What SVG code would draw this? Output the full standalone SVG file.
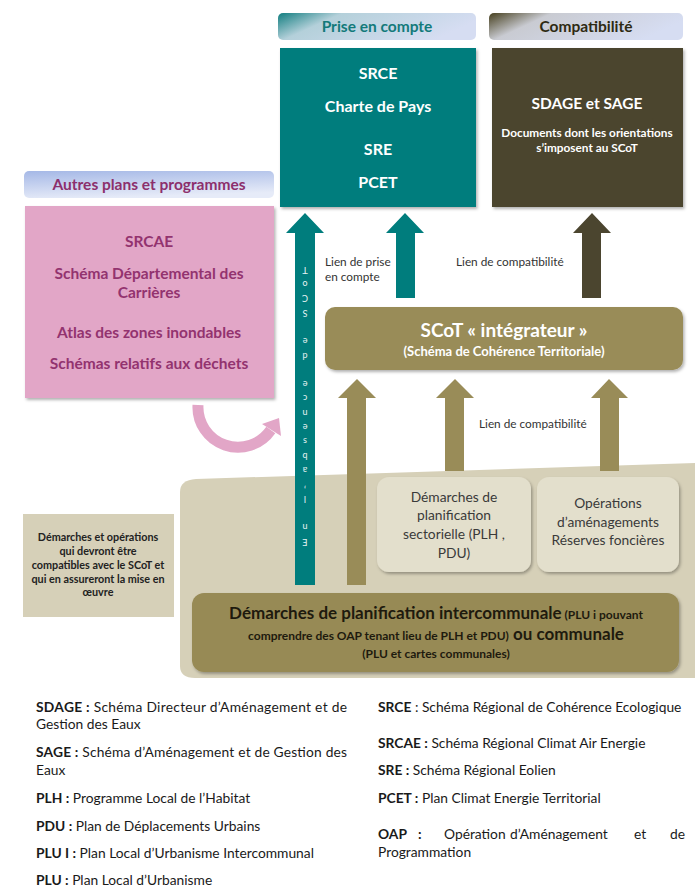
<svg xmlns="http://www.w3.org/2000/svg" width="695" height="889" viewBox="0 0 695 889">
<defs>
<linearGradient id="gTeal" x1="0" y1="0" x2="1" y2="0.3">
<stop offset="0" stop-color="#127e80"/><stop offset="0.3" stop-color="#b4d0da"/><stop offset="1" stop-color="#d6ddf2"/>
</linearGradient>
<linearGradient id="gOlive" x1="0" y1="0" x2="1" y2="0.3">
<stop offset="0" stop-color="#47401f"/><stop offset="0.3" stop-color="#c9cbd2"/><stop offset="1" stop-color="#d6ddf2"/>
</linearGradient>
<linearGradient id="gBlue" x1="0" y1="0" x2="0.3" y2="1">
<stop offset="0" stop-color="#a5b8e6"/><stop offset="1" stop-color="#e6ebf8"/>
</linearGradient>
<filter id="sh" x="-10%" y="-10%" width="125%" height="130%">
<feDropShadow dx="1.5" dy="2" stdDeviation="1.5" flood-color="#000" flood-opacity="0.3"/>
</filter>
<style>
text{font-family:Lato,"Liberation Sans",sans-serif}
.b{font-weight:bold}
.w{fill:#fff}
.hd{font-size:15.5px;font-weight:bold;text-anchor:middle}
.pk{fill:#93336f;font-size:15.5px;font-weight:bold;text-anchor:middle}
.tl{fill:#fff;font-size:16px;font-weight:bold;text-anchor:middle}
.lab{fill:#333;font-size:11.8px}
.sec{fill:#3a3a3a;font-size:13.8px;text-anchor:middle}
.lg{fill:#1a1a1a;font-size:13.8px}
.sm{fill:#222;font-size:10.8px;font-weight:bold;text-anchor:middle}
.vt{fill:#e8f4f4;font-size:9px;text-anchor:middle;dominant-baseline:central}
.ap{fill:#e2a6c7}
</style>
</defs>
<rect width="695" height="889" fill="#fff"/>

<!-- background beige area -->
<path id="zone" d="M180 492 Q180 480 196 479 L695 463 L695 678 L195 678 Q180 678 180 666 Z" fill="#d6d0b8"/>

<g id="hdr-prise">
<rect x="278" y="13" width="198" height="27" rx="5" fill="url(#gTeal)"/>
<text class="hd" x="377" y="32" fill="#137a7a">Prise en compte</text>
</g>
<g id="hdr-compat">
<rect x="489" y="13" width="194" height="27" rx="5" fill="url(#gOlive)"/>
<text class="hd" x="586" y="32" fill="#2e2a12">Compatibilité</text>
</g>
<g id="box-prise">
<rect x="280" y="48" width="196" height="159" fill="#007d7d" filter="url(#sh)"/>
<text class="tl" x="378" y="79">SRCE</text>
<text class="tl" x="378" y="112">Charte de Pays</text>
<text class="tl" x="378" y="155">SRE</text>
<text class="tl" x="378" y="188">PCET</text>
</g>
<g id="box-compat">
<rect x="492" y="48" width="191" height="159" fill="#4b452f" filter="url(#sh)"/>
<text class="w b" x="587" y="109" font-size="15.5" text-anchor="middle">SDAGE et SAGE</text>
<text class="w b" x="587" y="137" font-size="11.8" text-anchor="middle">Documents dont les orientations</text>
<text class="w b" x="587" y="152" font-size="11.8" text-anchor="middle">s’imposent au SCoT</text>
</g>
<g id="hdr-autres">
<rect x="24" y="171" width="250" height="27" rx="5" fill="url(#gBlue)"/>
<text class="hd" x="149" y="190" fill="#8c2f6c">Autres plans et programmes</text>
</g>
<g id="box-autres">
<rect x="25" y="206" width="249" height="192" fill="#e2a6c7" filter="url(#sh)"/>
<text class="pk" x="149" y="247">SRCAE</text>
<text class="pk" x="149" y="279">Schéma Départemental des</text>
<text class="pk" x="149" y="298">Carrières</text>
<text class="pk" x="149" y="338">Atlas des zones inondables</text>
<text class="pk" x="149" y="369">Schémas relatifs aux déchets</text>
</g>
<g id="scot">
<rect x="325" y="307" width="358" height="63" rx="10" fill="#998c58" filter="url(#sh)"/>
<text class="w b" x="504" y="337" font-size="19" text-anchor="middle">SCoT « intégrateur »</text>
<text class="w b" x="504" y="356" font-size="13" text-anchor="middle">(Schéma de Cohérence Territoriale)</text>
</g>
<g id="box-sect">
<rect x="377" y="477" width="154" height="95" rx="12" fill="#e3dfcc" filter="url(#sh)"/>
<text class="sec" x="454" y="502">Démarches de</text>
<text class="sec" x="454" y="520">planification</text>
<text class="sec" x="454" y="539">sectorielle (PLH ,</text>
<text class="sec" x="454" y="558">PDU)</text>
</g>
<g id="box-oper">
<rect x="537" y="477" width="142" height="95" rx="12" fill="#e3dfcc" filter="url(#sh)"/>
<text class="sec" x="608" y="508">Opérations</text>
<text class="sec" x="608" y="527">d’aménagements</text>
<text class="sec" x="608" y="545">Réserves foncières</text>
</g>
<g id="box-note">
<rect x="23" y="514" width="151" height="103" fill="#d6d0b8"/>
<text class="sm" x="98" y="541">Démarches et opérations</text>
<text class="sm" x="98" y="555">qui devront être</text>
<text class="sm" x="98" y="569">compatibles avec le SCoT et</text>
<text class="sm" x="98" y="583">qui en assureront la mise en</text>
<text class="sm" x="98" y="596">œuvre</text>
</g>

<g id="connectors">
<polygon points="305,213 324,233 315,233 315,585 295,585 295,233 286,233" fill="#007d7d"/>
<polygon points="405,213 424,233 415,233 415,298 396,298 396,233 386,233" fill="#007d7d"/>
<polygon points="592,213 611,233 601,233 601,298 582,298 582,233 573,233" fill="#4b452f"/>
<polygon points="357,379 376,398 366,398 366,585 347,585 347,398 338,398" fill="#998c58"/>
<polygon points="455,379 474,398 464,398 464,471 445,471 445,398 436,398" fill="#998c58"/>
<polygon points="609,379 628,398 619,398 619,471 600,471 600,398 591,398" fill="#998c58"/>
<path d="M198 405 A40 40 0 0 0 270.8 430" fill="none" stroke="#e2a6c7" stroke-width="11"/>
<polygon class="ap" points="279,418 281,436 262,424"/>
<g id="vtext">
<text class="vt" x="305" y="542" transform="rotate(180 305 542)">E</text>
<text class="vt" x="305" y="527.7" transform="rotate(180 305 527.7)">n</text>
<text class="vt" x="305" y="499" transform="rotate(180 305 499)">l</text>
<text class="vt" x="305" y="484.7" transform="rotate(180 305 484.7)">’</text>
<text class="vt" x="305" y="470.4" transform="rotate(180 305 470.4)">a</text>
<text class="vt" x="305" y="456.1" transform="rotate(180 305 456.1)">b</text>
<text class="vt" x="305" y="441.8" transform="rotate(180 305 441.8)">s</text>
<text class="vt" x="305" y="427.5" transform="rotate(180 305 427.5)">e</text>
<text class="vt" x="305" y="413.2" transform="rotate(180 305 413.2)">n</text>
<text class="vt" x="305" y="398.9" transform="rotate(180 305 398.9)">c</text>
<text class="vt" x="305" y="384.6" transform="rotate(180 305 384.6)">e</text>
<text class="vt" x="305" y="356" transform="rotate(180 305 356)">d</text>
<text class="vt" x="305" y="341.7" transform="rotate(180 305 341.7)">e</text>
<text class="vt" x="305" y="313.1" transform="rotate(180 305 313.1)">S</text>
<text class="vt" x="305" y="298.8" transform="rotate(180 305 298.8)">C</text>
<text class="vt" x="305" y="284.5" transform="rotate(180 305 284.5)">o</text>
<text class="vt" x="305" y="270.2" transform="rotate(180 305 270.2)">T</text>
</g>
<text class="lab" x="325" y="266">Lien de prise</text>
<text class="lab" x="325" y="281">en compte</text>
<text class="lab" x="456" y="266">Lien de compatibilité</text>
<text class="lab" x="479" y="428">Lien de compatibilité</text>
</g>

<g id="box-inter">
<rect x="192" y="593" width="487" height="79" rx="12" fill="#978a55" filter="url(#sh)"/>
<text x="436" y="619" text-anchor="middle" fill="#1e1a0e" class="b"><tspan font-size="17">Démarches de planification intercommunale</tspan><tspan font-size="12"> (PLU i pouvant</tspan></text>
<text x="436" y="640" text-anchor="middle" fill="#1e1a0e" class="b"><tspan font-size="12">comprendre des OAP tenant lieu de PLH et PDU)</tspan><tspan font-size="17"> ou communale</tspan></text>
<text x="436" y="658" text-anchor="middle" fill="#1e1a0e" class="b" font-size="12">(PLU et cartes communales)</text>
</g>

<g id="legend">
<text class="lg" x="36" y="712" textLength="311" lengthAdjust="spacing"><tspan class="b">SDAGE :</tspan> Schéma Directeur d’Aménagement et de</text>
<text class="lg" x="36" y="729">Gestion des Eaux</text>
<text class="lg" x="36" y="757" textLength="311" lengthAdjust="spacing"><tspan class="b">SAGE :</tspan> Schéma d’Aménagement et de Gestion des</text>
<text class="lg" x="36" y="775">Eaux</text>
<text class="lg" x="36" y="803"><tspan class="b">PLH :</tspan> Programme Local de l’Habitat</text>
<text class="lg" x="36" y="831"><tspan class="b">PDU :</tspan> Plan de Déplacements Urbains</text>
<text class="lg" x="36" y="858"><tspan class="b">PLU I :</tspan> Plan Local d’Urbanisme Intercommunal</text>
<text class="lg" x="36" y="885"><tspan class="b">PLU :</tspan> Plan Local d’Urbanisme</text>
<text class="lg" x="378" y="712"><tspan class="b">SRCE</tspan> : Schéma Régional de Cohérence Ecologique</text>
<text class="lg" x="378" y="748"><tspan class="b">SRCAE :</tspan> Schéma Régional Climat Air Energie</text>
<text class="lg" x="378" y="775"><tspan class="b">SRE :</tspan> Schéma Régional Eolien</text>
<text class="lg" x="378" y="803"><tspan class="b">PCET :</tspan> Plan Climat Energie Territorial</text>
<text class="lg" x="378" y="839"><tspan class="b" x="378">OAP</tspan><tspan class="b" x="418">:</tspan><tspan x="444">Opération</tspan><tspan x="510">d’Aménagement</tspan><tspan x="634">et</tspan><tspan x="670">de</tspan></text>
<text class="lg" x="378" y="857">Programmation</text>
</g>
</svg>
